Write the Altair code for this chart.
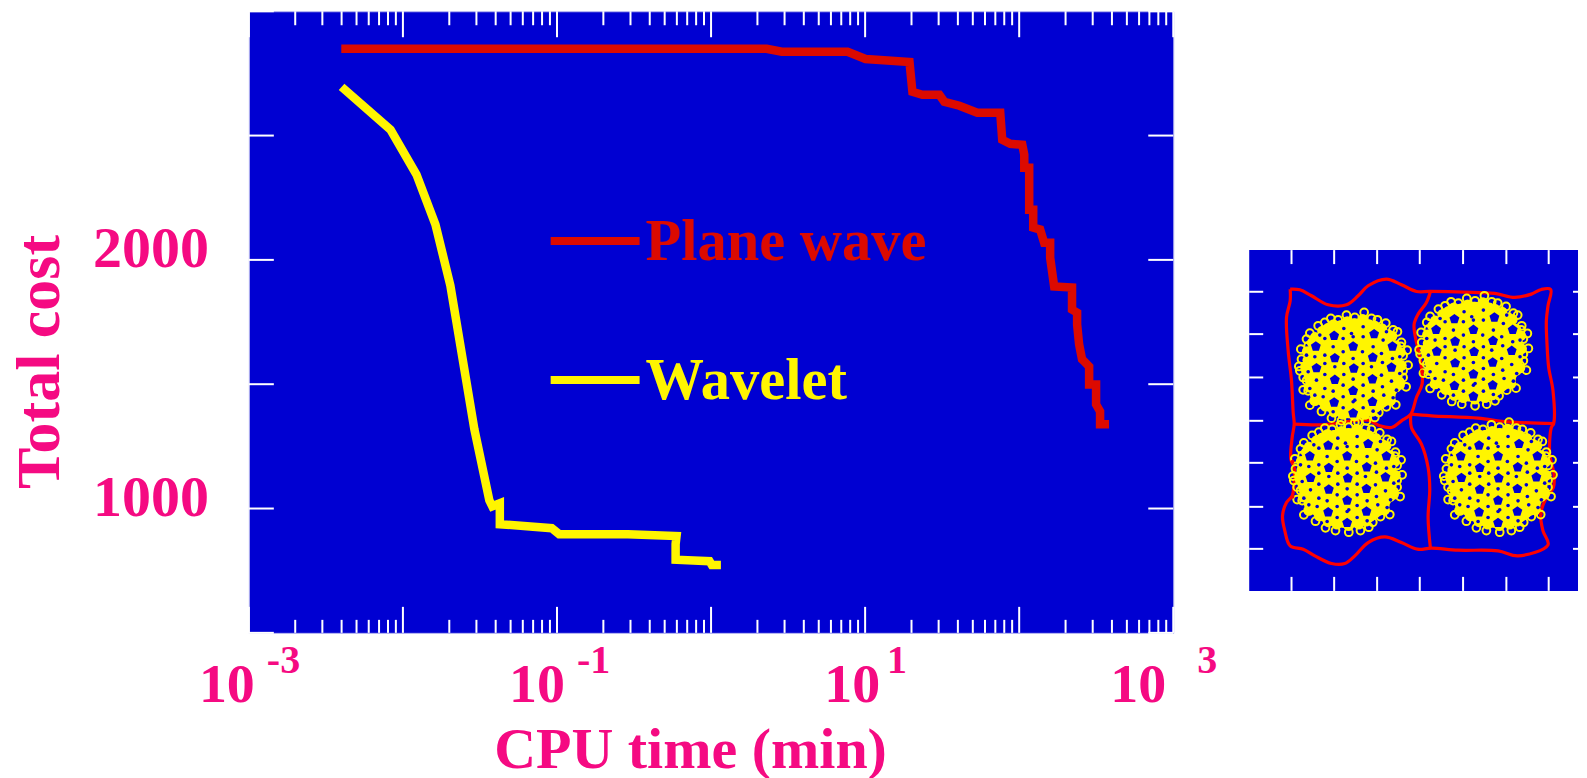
import altair as alt
import pandas as pd

# ---------- main panel: values ----------
plane_log_min = [-2.400, 0.361, 0.459, 0.886, 1.003, 1.288, 1.307, 1.372, 1.482, 1.514, 1.612, 1.728, 1.877,
                 1.890, 1.942, 2.020, 2.033, 2.033, 2.065, 2.065, 2.091, 2.091, 2.136, 2.162, 2.201, 2.201,
                 2.227, 2.343, 2.343, 2.376, 2.376, 2.389, 2.408, 2.421, 2.454, 2.454, 2.499, 2.499, 2.525,
                 2.525, 2.583]
plane_cost = [2849, 2849, 2837, 2837, 2808, 2796, 2676, 2664, 2664, 2636, 2620, 2592, 2592,
              2483, 2467, 2463, 2423, 2371, 2371, 2202, 2202, 2130, 2122, 2069, 2069, 2009,
              1893, 1889, 1800, 1788, 1740, 1660, 1600, 1592, 1571, 1499, 1499, 1419, 1391,
              1339, 1339]
wave_log_min = [-2.398, -2.080, -1.912, -1.789, -1.692, -1.536, -1.439, -1.420, -1.371, -1.371, -1.034,
                -0.986, -0.539, -0.224, -0.230, -0.230, -0.010, 0.005, 0.064]
wave_cost = [2696, 2523, 2343, 2142, 1897, 1318, 1033, 1009, 1021, 937, 921,
             897, 897, 889, 857, 794, 788, 773, 773]
major_ticks = [0.001, 0.01, 0.1, 1, 10, 100, 1000]
minor_ticks = [2e-3, 3e-3, 4e-3, 5e-3, 6e-3, 7e-3, 8e-3, 9e-3,
               2e-2, 3e-2, 4e-2, 5e-2, 6e-2, 7e-2, 8e-2, 9e-2,
               0.2, 0.3, 0.4, 0.5, 0.6, 0.7, 0.8, 0.9,
               2, 3, 4, 5, 6, 7, 8, 9,
               20, 30, 40, 50, 60, 70, 80, 90,
               200, 300, 400, 500, 600, 700, 800, 900]
cost_ticks = [500, 1000, 1500, 2000, 2500, 3000]
cost_labels = [1000, 2000]
decade_at = [0.001, 0.1, 10, 1000]
exponents = ["-3", "-1", "1", "3"]
base_nudge = [-22, -20, -13, -35]
exp_nudge = [18, 20, 22, 24]

# ---------- inset: values (depth grows downward) ----------
inset_x_ticks = [180, 308, 437, 565, 695, 825, 952]
inset_y_ticks = [153, 280, 410, 540, 666, 798, 924]
outer_x = [176, 205, 240, 290, 345, 380, 410, 465, 510, 555, 597, 700, 790, 850, 900, 930, 958, 950, 945, 947, 952, 965,
           967, 960, 955, 968, 966, 945, 928, 935, 950, 860, 800, 680, 600, 558, 510, 460, 410, 370, 340, 300, 250, 215,
           176, 160, 153, 165, 182, 188, 188, 178, 182, 188, 185, 180, 170, 165, 176, 176]
outer_y = [145, 147, 165, 192, 192, 165, 135, 115, 132, 152, 152, 154, 158, 170, 160, 146, 146, 195, 240, 310, 380, 450,
           548, 560, 640, 700, 740, 770, 820, 870, 912, 945, 930, 928, 922, 925, 905, 888, 905, 945, 968, 968, 945, 925,
           915, 870, 825, 785, 765, 720, 680, 655, 590, 550, 515, 420, 330, 230, 180, 145]
div1_x = [597, 585, 560, 548, 552, 560, 570, 572, 555, 538, 510, 480, 445, 410, 330, 270, 188]
div1_y = [152, 185, 220, 250, 290, 325, 380, 430, 470, 520, 540, 560, 555, 538, 545, 552, 550]
div2_x = [538, 600, 740, 830, 967]
div2_y = [520, 525, 532, 543, 548]
div3_x = [538, 540, 570, 590, 595, 590, 597]
div3_y = [520, 560, 610, 680, 745, 830, 922]
disk_cx = [365, 726, 347, 800]
disk_cy = [383, 333, 712, 712]
rim_dx = [33, 55, 73, 98, 120, 133, 145, 143, 162, 150, 165, 150, 150, 140, 159, 130, 113, 100, 128, 100, 77, 65, 40, 5,
          -35, -65, -95, -117, -130, -115, -135, -150, -140, -150, -160, -163, -155, -157, -135, -140, -130, -105, -85,
          -67, -45, -20, 5]
rim_dy = [-168, -150, -146, -136, -116, -110, -78, -66, -55, -38, -10, 7, 27, 40, 55, 57, 82, 97, 109, 115, 132, 147,
          157, 162, 157, 149, 129, 97, 110, 80, 67, 64, 37, 27, 7, -6, -28, -58, -68, -88, -106, -128, -138, -150, -146,
          -160, -153]
hole_dx = [-57, 63, -112, 0, 118, -55, 59, -110, 2, 115, -55, 58, 0, -57, 58, 0]
hole_dy = [-98, -103, -66, -66, -66, -31, -33, -1, 0, -3, 34, 32, 67, 102, 100, 134]
speck_dx = [-30, 30, -85, 90, -30, 28, -85, 85, -140, 140, -28, 30, -85, 88, -135, 140, -28, 30, -85, 85, -30, 30, -85,
            88, -30, 30, -90, 92, -30, 30, -5, 5, 60, -60, -28, 30, 60, -60, 55, -55, -110, 115, -115, 118, 0, 0, 0, 0,
            -60, 60, -130, 130, -115, 120, -100, 100]
speck_dy = [-90, -95, -90, -85, -50, -50, -40, -45, -40, -35, -15, -15, -15, -18, 10, 15, 18, 18, 18, 20, 50, 50, 60,
            55, 85, 82, 85, 80, 118, 118, -105, 95, -65, -65, -120, -125, 68, 68, -5, -5, 35, 38, -35, -30, -30, 32, -95,
            100, 130, 128, 60, 65, 80, 88, -100, -110]
hot_x = [560, 572, 928, 183, 183]
hot_y = [328, 392, 820, 662, 768]

# ---------- style ----------
BLUE, RED, YELLOW, PINK, WHITE = "#0000d2", "#dc0a00", "#fff500", "#f50a82", "#ffffff"
EDGE = "#b4b4f0"
SERIF = "Liberation Serif"
PENTAGON = "M0,-0.6L0.57,-0.19L0.35,0.49L-0.35,0.49L-0.57,-0.19Z"
W, H = 925, 622
IW, IH = 329, 341

x_scale = alt.Scale(type="log", base=10, domain=[0.001, 1000], nice=False)
y_scale = alt.Scale(type="linear", domain=[500, 3000], nice=False)


def series(logs, costs):
    return pd.DataFrame({"t": [10 ** v for v in logs], "c": costs, "seq": range(len(logs))})


def tx():
    return alt.X("t:Q", scale=x_scale, axis=None)


def cy():
    return alt.Y("c:Q", scale=y_scale, axis=None)


red_line = alt.Chart(series(plane_log_min, plane_cost)).mark_line(
    color=RED, strokeWidth=8.5, strokeJoin="miter", strokeCap="butt"
).encode(x=tx(), y=cy(), order="seq:Q")
yellow_line = alt.Chart(series(wave_log_min, wave_cost)).mark_line(
    color=YELLOW, strokeWidth=8.5, strokeJoin="miter", strokeCap="butt"
).encode(x=tx(), y=cy(), order="seq:Q")


def x_ticks(values, y0, y1):
    return alt.Chart(pd.DataFrame({"t": values})).mark_rule(color=WHITE, strokeWidth=2).encode(
        x=tx(), y=alt.value(y0), y2=alt.value(y1))


def y_ticks(x0, x1):
    return alt.Chart(pd.DataFrame({"c": cost_ticks})).mark_rule(color=WHITE, strokeWidth=2).encode(
        y=cy(), x=alt.value(x0), x2=alt.value(x1))


layers = [red_line, yellow_line,
          x_ticks(major_ticks, 0, 26), x_ticks(minor_ticks, 0, 14),
          x_ticks(major_ticks, H - 26, H), x_ticks(minor_ticks, H - 13, H),
          y_ticks(0, 25), y_ticks(W - 25, W)]

for name, colour, ky in [("Plane wave", RED, 230), ("Wavelet", YELLOW, 369)]:
    tk = pd.DataFrame({"label": [name]})
    layers.append(alt.Chart(tk).mark_rule(color=colour, strokeWidth=8).encode(
        x=alt.value(302), x2=alt.value(391), y=alt.value(ky)))
    layers.append(alt.Chart(tk).mark_text(
        font=SERIF, fontSize=58.5, fontWeight="bold", color=colour, align="left", baseline="alphabetic"
    ).encode(x=alt.value(397), y=alt.value(ky + 19), text="label:N"))

for at, ex, nb, ne in zip(decade_at, exponents, base_nudge, exp_nudge):
    row = pd.DataFrame({"t": [at], "base": ["10"], "ex": [ex]})
    layers.append(alt.Chart(row).mark_text(
        font=SERIF, fontSize=56, fontWeight="bold", color=PINK, align="center", baseline="alphabetic", dx=nb
    ).encode(x=tx(), y=alt.value(691), text="base:N"))
    layers.append(alt.Chart(row).mark_text(
        font=SERIF, fontSize=40, fontWeight="bold", color=PINK, align="left", baseline="alphabetic", dx=ne
    ).encode(x=tx(), y=alt.value(662), text="ex:N"))

layers.append(alt.Chart(pd.DataFrame({"c": cost_labels, "s": [str(v) for v in cost_labels]})).mark_text(
    font=SERIF, fontSize=58, fontWeight="bold", color=PINK, align="right", baseline="alphabetic", dy=7
).encode(x=alt.value(-40), y=cy(), text="s:N"))
layers.append(alt.Chart(pd.DataFrame({"s": ["CPU time (min)"]})).mark_text(
    font=SERIF, fontSize=58, fontWeight="bold", color=PINK, align="center", baseline="alphabetic"
).encode(x=alt.value(442), y=alt.value(757), text="s:N"))
layers.append(alt.Chart(pd.DataFrame({"s": ["Total cost"]})).mark_text(
    font=SERIF, fontSize=62, fontWeight="bold", color=PINK, align="center", baseline="alphabetic", angle=270
).encode(x=alt.value(-190), y=alt.value(351), text="s:N"))

main = alt.layer(*layers).properties(
    width=W, height=H, view=alt.ViewConfig(fill=BLUE, stroke=EDGE, strokeWidth=1))

# ---------- inset ----------
ix_scale = alt.Scale(domain=[53, 1040], nice=False)
iy_scale = alt.Scale(domain=[28, 1050], reverse=True, nice=False)


def ix():
    return alt.X("x:Q", scale=ix_scale, axis=None)


def iy():
    return alt.Y("y:Q", scale=iy_scale, axis=None)


def outline(xs, ys):
    df = pd.DataFrame({"x": xs, "y": ys, "seq": range(len(xs))})
    return alt.Chart(df).mark_line(color="#ff0000", strokeWidth=3.2, strokeJoin="round", interpolate="catmull-rom").encode(
        x=ix(), y=iy(), order="seq:Q")


def spread(dxs, dys):
    return pd.DataFrame(
        [{"x": cx_ + dx, "y": cy_ + dy} for cx_, cy_ in zip(disk_cx, disk_cy) for dx, dy in zip(dxs, dys)])


body = alt.Chart(pd.DataFrame({"x": disk_cx, "y": disk_cy})).mark_point(
    filled=True, color=YELLOW, opacity=1, size=10000).encode(x=ix(), y=iy())
rim = alt.Chart(spread(rim_dx, rim_dy)).mark_point(
    filled=False, stroke=YELLOW, strokeWidth=2, opacity=1, size=60).encode(x=ix(), y=iy())
rim_fill = alt.Chart(spread([v * 0.88 for v in rim_dx], [v * 0.88 for v in rim_dy])).mark_point(
    filled=True, color=YELLOW, opacity=1, size=110).encode(x=ix(), y=iy())
holes = alt.Chart(spread(hole_dx, hole_dy)).mark_point(
    filled=True, color=BLUE, opacity=1, size=300, shape=PENTAGON).encode(x=ix(), y=iy())
specks = alt.Chart(spread(speck_dx, speck_dy)).mark_point(
    filled=True, color=BLUE, opacity=1, size=13).encode(x=ix(), y=iy())
hot = alt.Chart(pd.DataFrame({"x": hot_x, "y": hot_y})).mark_point(
    filled=True, color="#ff0000", opacity=1, size=14).encode(x=ix(), y=iy())


def ix_ticks(y0, y1):
    return alt.Chart(pd.DataFrame({"x": inset_x_ticks})).mark_rule(color=WHITE, strokeWidth=2).encode(
        x=ix(), y=alt.value(y0), y2=alt.value(y1))


def iy_ticks(x0, x1):
    return alt.Chart(pd.DataFrame({"y": inset_y_ticks})).mark_rule(color=WHITE, strokeWidth=2).encode(
        y=iy(), x=alt.value(x0), x2=alt.value(x1))


inset = alt.layer(
    outline(outer_x, outer_y), outline(div1_x, div1_y), outline(div2_x, div2_y), outline(div3_x, div3_y),
    body, rim_fill, rim, holes, specks, hot,
    ix_ticks(0, 14), ix_ticks(IH - 14, IH), iy_ticks(0, 14), iy_ticks(IW - 5, IW),
).properties(width=IW, height=IH, view=alt.ViewConfig(fill=BLUE, strokeWidth=0))

spacer = alt.Chart(pd.DataFrame({"x": [0]})).mark_point(opacity=0).encode(
    x=alt.value(100), y=alt.value(100)
).properties(width=IW, height=238, view=alt.ViewConfig(strokeWidth=0))

right = alt.vconcat(spacer, inset, spacing=0)
chart = alt.hconcat(main, right, spacing=30).properties(
    padding={"left": 0, "top": 1, "right": 0, "bottom": 0}, background="#ffffff")

chart.save("out.html", embed_options={"renderer": "svg", "actions": False})
